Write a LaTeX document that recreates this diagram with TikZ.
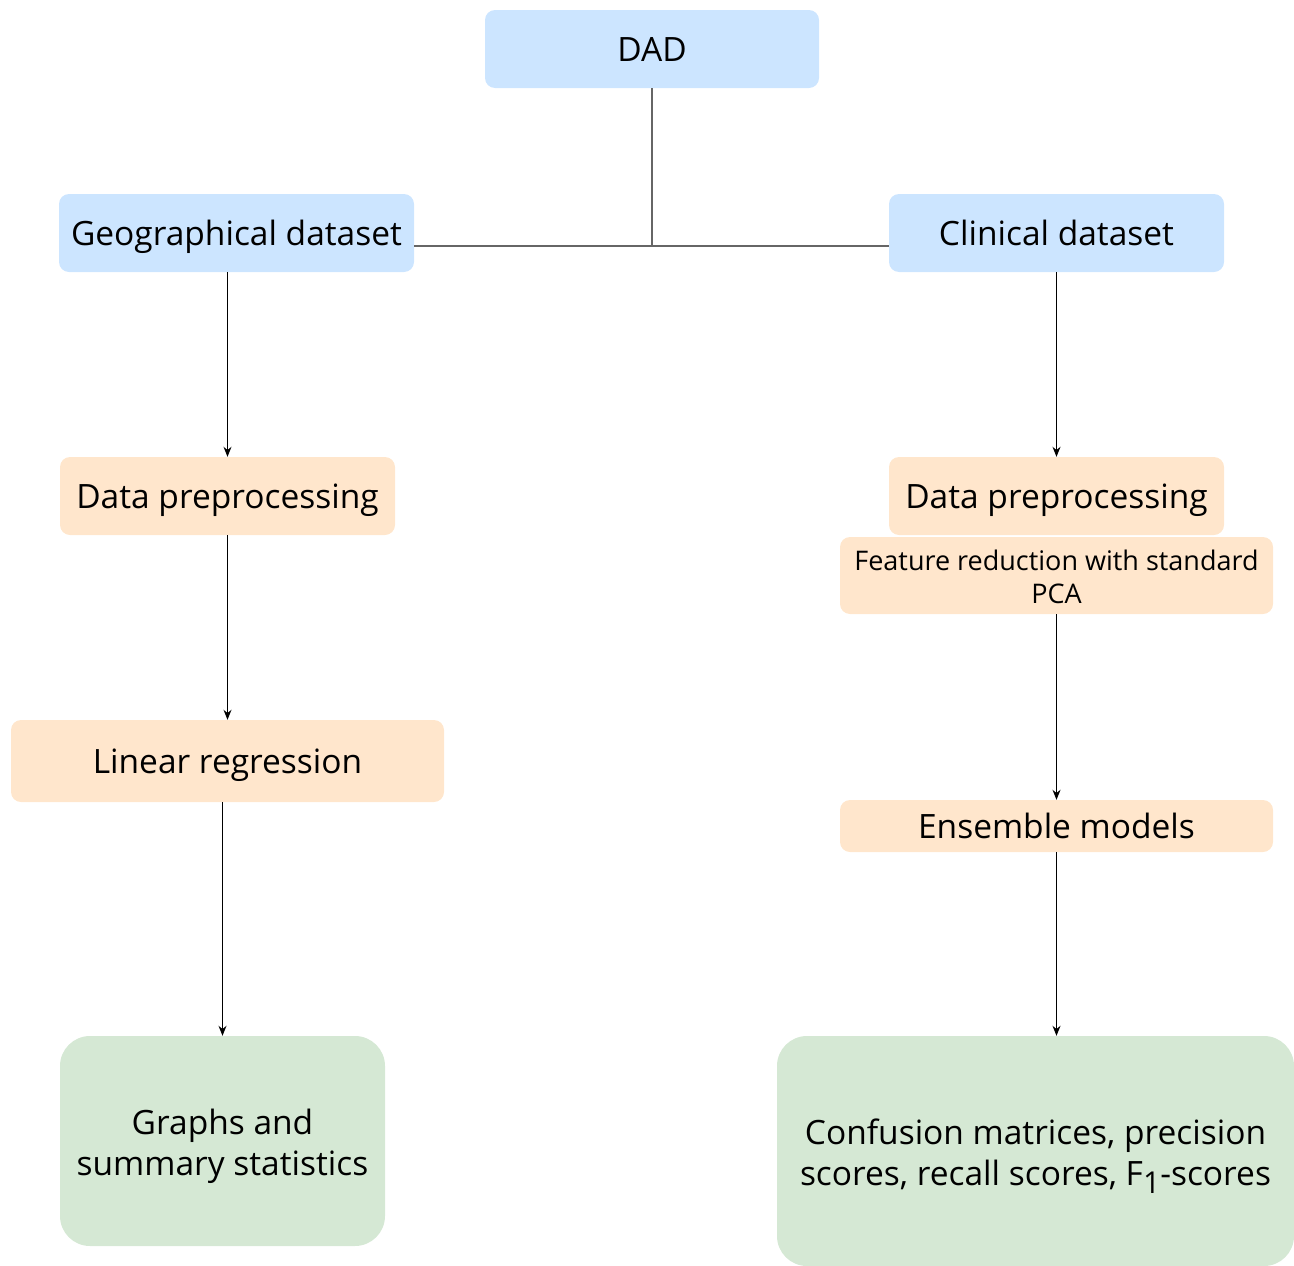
\documentclass[tikz,border=0pt]{standalone}
\usepackage{fontspec}
\setmainfont{Open Sans}
\usetikzlibrary{arrows.meta}
\definecolor{bluefill}{HTML}{CCE5FF}
\definecolor{orangefill}{HTML}{FFE6CC}
\definecolor{greenfill}{HTML}{D5E8D4}
\definecolor{linkgray}{HTML}{666666}
\tikzset{
  txt/.style={inner sep=0pt, align=center, text=black, font=\fontsize{33.5}{41}\selectfont},
  box/.style={rounded corners=10pt, inner sep=0pt, align=center, text=black,
    font=\fontsize{33.5}{41}\selectfont, text height=28pt, text depth=4pt},
  bluebox/.style={box, fill=bluefill},
  orangebox/.style={box, fill=orangefill},
  greenbox/.style={box, fill=greenfill, rounded corners=30pt},
  arr/.style={draw=black, line width=1.2pt, -{Stealth[length=10pt,width=8pt]}},
  link/.style={draw=linkgray, line width=1.6pt},
}
\begin{document}
\begin{tikzpicture}[x=1pt,y=-1pt]
\useasboundingbox (0,0) rectangle (1294,1266);
\node[bluebox, minimum width=334pt, minimum height=78pt] (dad) at (652,49) {DAD};
\node[bluebox, minimum width=355pt, minimum height=78pt] (geo) at (236.5,233) {Geographical dataset};
\node[bluebox, minimum width=335pt, minimum height=78pt] (clin) at (1056.5,233) {Clinical dataset};
\node[orangebox, minimum width=335pt, minimum height=78pt] (dp1) at (227.5,496) {Data preprocessing};
\node[orangebox, minimum width=433pt, minimum height=82pt] (lr) at (227.5,761) {Linear regression};
\node[greenbox, minimum width=325pt, minimum height=210pt] (graphs) at (222.5,1141) {};
\node[txt] (graphs-t) at ([yshift=-5pt]graphs.center) {Graphs and\\summary statistics};
\node[orangebox, minimum width=335pt, minimum height=78pt] (dp2) at (1056.5,496) {Data preprocessing};
\node[orangebox, minimum width=433pt, minimum height=77pt] (fr) at (1056.5,575.5) {};
\node[txt, font=\fontsize{27}{33}\selectfont] (fr-t) at ([yshift=-1pt]fr.center) {Feature reduction with standard\\PCA};
\node[orangebox, minimum width=433pt, minimum height=52pt] (ens) at (1056.5,826) {Ensemble models};
\node[greenbox, minimum width=517pt, minimum height=230pt] (conf) at (1035.5,1151) {};
\node[txt] (conf-t) at ([yshift=-5pt]conf.center) {Confusion matrices, precision\\scores, recall scores, F\raisebox{-0.25em}{\scalebox{0.9}{1}}-scores};
\coordinate (j) at (652,246);
\draw[link] (dad.south) -- (j);
\draw[link] (geo.east |- j) -- (clin.west |- j);
\draw[arr] (dp1.north |- geo.south) -- (dp1.north);
\draw[arr] (dp1.south) -- (lr.north);
\draw[arr] (graphs.north |- lr.south) -- (graphs.north);
\draw[arr] (clin.south) -- (dp2.north);
\draw[arr] (fr.south) -- (ens.north);
\draw[arr] (ens.south) -- (ens.south |- conf.north);
\end{tikzpicture}
\end{document}
